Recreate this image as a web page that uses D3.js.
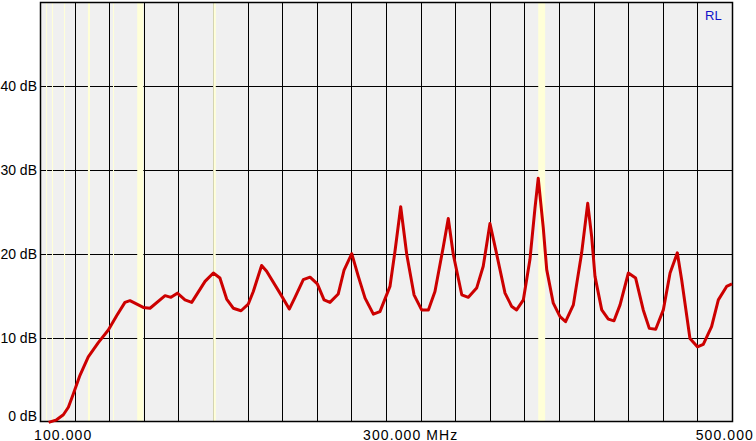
<!DOCTYPE html>
<html>
<head>
<meta charset="utf-8">
<script src="https://cdn.jsdelivr.net/npm/d3@7"></script>
<style>
  html, body { margin: 0; padding: 0; background: #ffffff; }
  svg { display: block; }
  text { font-family: "Liberation Sans", Arial, sans-serif; fill: #000; }
</style>
</head>
<body>
<svg id="chart" width="756" height="441"></svg>
<script>
// ---- data ----
const freqMHz = [105, 109.6, 113.5, 116.4, 119.3, 123.1, 127.9, 133.7, 139.5, 144.3, 149.1, 152,
  159.7, 163.6, 172.3, 175.7, 179.4, 183.8, 187.7, 195.4, 200.2, 204, 207.9, 211.7, 216.2, 220.4,
  223.3, 228.1, 231, 238.7, 244.1, 247.4, 252.2, 256.1, 260.3, 264.2, 267.6, 272.4, 275.7, 280.2,
  284, 287.9, 292.7, 296.5, 302.3, 305.2, 308.5, 312, 316.2, 320.6, 324.5, 328.3, 333.1, 336,
  338.9, 343.8, 347.6, 352.4, 356.2, 360.1, 363.6, 368.8, 372.7, 375.5, 379.4, 383.2, 386.1, 388,
  390.9, 392.9, 396.7, 400.6, 403.8, 408.3, 413.1, 416.6, 418.9, 420.8, 424.7, 428.5, 431.8, 435.3,
  440.1, 444.3, 448.7, 452.2, 455.9, 460.3, 464.2, 468.4, 470.9, 475.7, 480, 483.4, 488.2, 492.1,
  496.9, 500];
const rlDb = [-0.1, 0.2, 0.8, 1.7, 3.3, 5.5, 7.7, 9.4, 10.9, 12.6, 14.2, 14.4,
  13.6, 13.5, 15.0, 14.8, 15.3, 14.5, 14.2, 16.7, 17.7, 17.1, 14.6, 13.5, 13.2, 14.0,
  15.5, 18.6, 17.9, 15.3, 13.4, 14.8, 16.9, 17.2, 16.4, 14.5, 14.2, 15.2, 18.0, 20.0,
  17.3, 14.7, 12.8, 13.1, 16.1, 20.3, 25.6, 19.9, 15.1, 13.3, 13.3, 15.5, 20.8, 24.2,
  19.9, 15.1, 14.8, 15.9, 18.5, 23.6, 20.3, 15.3, 13.7, 13.3, 14.5, 19.3, 25.4, 29.0,
  23.1, 18.1, 14.1, 12.5, 11.9, 13.9, 20.1, 26.0, 22.0, 17.3, 13.3, 12.2, 12.0, 13.9,
  17.7, 17.1, 13.3, 11.1, 11.0, 13.3, 17.7, 20.1, 16.9, 9.9, 8.9, 9.2, 11.3, 14.5,
  16.1, 16.4];
const yTicksDb = [0, 10, 20, 30, 40];
const yTickLabels = ["0 dB", "10 dB", "20 dB", "30 dB", "40 dB"];
const xGridMHz = d3.range(100, 501, 20);
const xTickMHz = [100, 300, 500];
const xTickLabels = ["100.000", "300.000 MHz", "500.000"];
const markerBandsStart = [103.5, 106.9, 113.9, 127.7, 142.2, 156.2, 200.1, 388.0];
const markerBandsEnd   = [104.1, 107.5, 114.5, 128.9, 142.8, 159.7, 201.6, 392.0];
const traceLabel = "RL";

// ---- layout ----
const svg = d3.select("#chart");
const L = 40, R = 732, T = 2, B = 421.5;
const x = d3.scaleLinear().domain([100, 500]).range([L, R]);
const y = d3.scaleLinear().domain([0, 50]).range([B, T]);

// plot background
svg.append("rect").attr("x", L).attr("y", T).attr("width", R - L).attr("height", B - T)
  .attr("fill", "#f0f0f0");

// horizontal grid
svg.append("g").selectAll("line").data(yTicksDb.filter(d => d > 0)).join("line")
  .attr("x1", L).attr("x2", R)
  .attr("y1", d => Math.round(y(d)) + 0.5).attr("y2", d => Math.round(y(d)) + 0.5)
  .attr("stroke", "#000").attr("stroke-width", 1);

// vertical grid
svg.append("g").selectAll("line").data(xGridMHz.filter(d => d > 100 && d < 500)).join("line")
  .attr("x1", d => Math.round(x(d)) + 0.5).attr("x2", d => Math.round(x(d)) + 0.5)
  .attr("y1", T).attr("y2", B)
  .attr("stroke", "#000").attr("stroke-width", 1);

// marker bands (light yellow)
svg.append("g").selectAll("rect").data(d3.range(markerBandsStart.length)).join("rect")
  .attr("x", i => x(markerBandsStart[i]))
  .attr("width", i => Math.max(1, x(markerBandsEnd[i]) - x(markerBandsStart[i])))
  .attr("y", T + 1).attr("height", B - T - 1)
  .attr("fill", "#ffffd8");

// plot border
svg.append("rect").attr("x", L + 0.5).attr("y", T + 0.5).attr("width", R - L).attr("height", B - T - 0.5)
  .attr("fill", "none").attr("stroke", "#000").attr("stroke-width", 1.5);

// trace
const pts = freqMHz.map((f, i) => [f, rlDb[i]]);
const line = d3.line().x(d => x(d[0])).y(d => y(d[1]));
svg.append("path").datum(pts).attr("d", line)
  .attr("fill", "none").attr("stroke", "#cc0000").attr("stroke-width", 3)
  .attr("stroke-linejoin", "round").attr("stroke-linecap", "butt");

// y labels
svg.append("g").selectAll("text").data(yTicksDb).join("text")
  .attr("x", 37)
  .attr("y", d => d === 0 ? B - 0.5 : y(d) + 5)
  .attr("text-anchor", "end")
  .attr("font-size", 14)
  .text((d, i) => yTickLabels[i]);

// x labels
const xOffsets = [-6, -23, 22];
const xAnchors = ["start", "start", "end"];
svg.append("g").selectAll("text").data(xTickMHz).join("text")
  .attr("x", (d, i) => x(d) + xOffsets[i])
  .attr("y", 439.5)
  .attr("text-anchor", (d, i) => xAnchors[i])
  .attr("font-size", 14)
  .attr("letter-spacing", "1.1px")
  .text((d, i) => xTickLabels[i]);

// trace label
svg.append("text").attr("x", 705).attr("y", 19.5)
  .attr("font-size", 13).style("fill", "#1010c8").text(traceLabel);
</script>
</body>
</html>
